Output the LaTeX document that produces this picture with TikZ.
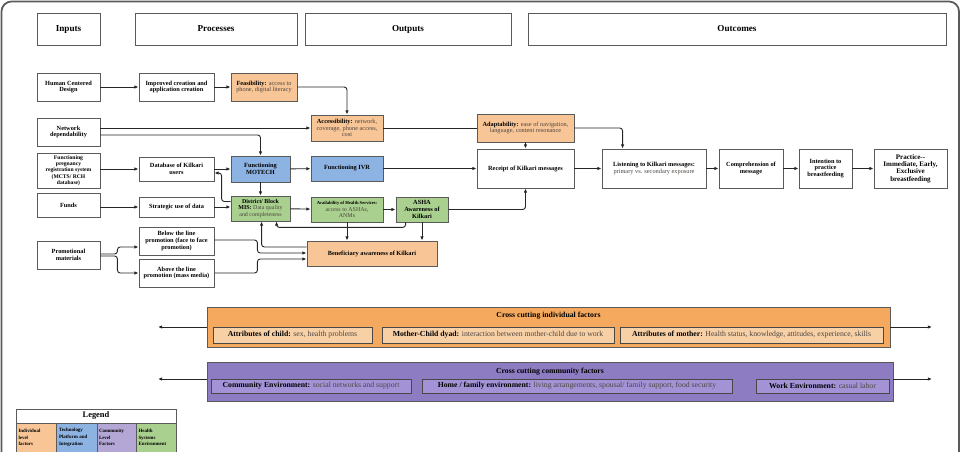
\documentclass[tikz,border=0pt]{standalone}
\usepackage{fontspec}
\setmainfont{Liberation Serif}
\usepackage{xcolor}
\usetikzlibrary{positioning,arrows.meta,calc}
\definecolor{edge}{HTML}{5A5A5A}
\definecolor{desc}{HTML}{4D4540}
\definecolor{indfill}{HTML}{F8C597}
\definecolor{techfill}{HTML}{8DB3E2}
\definecolor{hsfill}{HTML}{A9D08E}
\definecolor{indband}{HTML}{F4A95E}
\definecolor{indsub}{HTML}{F8D0A6}
\definecolor{comband}{HTML}{8E7CC3}
\definecolor{comsub}{HTML}{A393D6}
\definecolor{comleg}{HTML}{B4A7D6}
\newcommand{\dsc}[1]{{\mdseries\color{desc}#1}}

\begin{document}
\begin{tikzpicture}[x=0.05cm,y=-0.05cm,
    box/.style={draw=edge,line width=1.2pt,fill=white,align=center,inner sep=1pt,
                font=\fontsize{9}{9.5}\selectfont\bfseries},
    hdr/.style={box,font=\fontsize{13}{14}\selectfont\bfseries},
    wh/.style 2 args={minimum width=#1*0.05cm,minimum height=#2*0.05cm},
    ind/.style={box,fill=indfill},
    tech/.style={box,fill=techfill},
    hs/.style={box,fill=hsfill},
    band/.style={draw=edge,line width=1.2pt,inner sep=0pt},
    subbox/.style={draw=edge!80!black,line width=1pt,inner sep=0pt,
                   font=\fontsize{11}{12}\selectfont\bfseries},
    arr/.style={-{Latex[length=6pt,width=5pt]},line width=1.3pt,draw=black!85,rounded corners=4pt},
    link/.style={line width=1.3pt,draw=black!85},
    outerframe/.style={draw=edge,line width=2.5pt,rounded corners=0.5cm},
    leg/.style={draw=edge,line width=0.8pt,align=left,inner sep=2pt,text width=1.75cm,
                font=\fontsize{7}{9.5}\selectfont\bfseries}
  ]
  \useasboundingbox (0,0) rectangle (965,452);
  \clip (0,0) rectangle (965,452);
  \draw[outerframe] (1.5,1.5) rectangle (959,490);

  % Column headers
  \node[hdr,wh={63}{32}] (hinputs) at (68.5,29) {Inputs};
  \node[hdr,wh={162}{32}] (hprocess) at (216,29) {Processes};
  \node[hdr,wh={206}{32}] (houtputs) at (408,29) {Outputs};
  \node[hdr,wh={418}{32}] (houtcomes) at (737,29) {Outcomes};

  % Inputs
  \node[box,wh={63}{28}] (hcd) at (68.5,87) {Human Centered\\Design};
  \node[box,wh={63}{28}] (netdep) at (68.5,132) {Network\\dependability};
  \node[box,wh={63}{35},font=\fontsize{8}{8.8}\selectfont\bfseries] (fprs) at (68.5,170.5)
    {Functioning\\pregnancy\\registration system\\(MCTS/ RCH\\database)};
  \node[box,wh={63}{24}] (funds) at (68.5,205) {Funds};
  \node[box,wh={63}{28}] (promo) at (68.5,255) {Promotional\\materials};

  % Processes
  \node[box,wh={75}{28}] (improved) at (176.5,87) {Improved creation and\\application creation};
  \node[ind,wh={66}{28}] (feasib) at (264,87) {Feasibility: \dsc{access to}\\\dsc{phone, digital literacy}};
  \node[box,wh={75}{24}] (kdb) at (176.5,169) {Database of Kilkari\\users};
  \node[box,wh={75}{20}] (strategic) at (176.5,207) {Strategic use of data};
  \node[box,wh={75}{28}] (below) at (176.5,241) {Below the line\\promotion (face to face\\promotion)};
  \node[box,wh={75}{28}] (above) at (176.5,273) {Above the line\\promotion (mass media)};
  \node[tech,wh={59}{26}] (motech) at (260.5,169) {Functioning\\MOTECH};
  \node[hs,wh={59}{25},font=\fontsize{8.5}{9}\selectfont\bfseries] (mis) at (260.5,208.5)
    {District/ Block\\MIS: \dsc{Data quality}\\\dsc{and completeness}};

  % Outputs
  \node[ind,wh={72}{26}] (access) at (347,128)
    {Accessibility: \dsc{network,}\\\dsc{coverage, phone access,}\\\dsc{cost}};
  \node[tech,wh={72}{25}] (ivr) at (347,168.5) {Functioning IVR};
  \node[hs,wh={72}{25},font=\fontsize{8.5}{9}\selectfont\bfseries] (availhs) at (347,209.5)
    {{\fontsize{6.5}{8}\selectfont Availability of Health Services:}\\\dsc{access to ASHAs,}\\\dsc{ANMs}};
  \node[hs,wh={52}{25}] (asha) at (422,209.5) {ASHA\\Awareness of\\Kilkari};
  \node[ind,wh={130}{25}] (benef) at (372,253.5) {Beneficiary awareness of Kilkari};
  \node[ind,wh={97}{28}] (adapt) at (525.5,128)
    {Adaptability: \dsc{ease of navigation,}\\\dsc{language, content resonance}};
  \node[box,wh={97}{39}] (receipt) at (525.5,168.5) {Receipt of Kilkari messages};

  % Outcomes
  \node[box,wh={104}{39}] (listen) at (654,168.5)
    {Listening to Kilkari messages:\\\dsc{primary vs. secondary exposure}};
  \node[box,wh={64}{39}] (compre) at (751,168.5) {Comprehension of\\message};
  \node[box,wh={53}{39}] (intent) at (825.5,168.5) {Intention to\\practice\\breastfeeding};
  \node[box,wh={73}{39},font=\fontsize{10}{10.5}\selectfont\bfseries] (practice) at (910.5,168.5)
    {Practice-{}-\\Immediate, Early,\\Exclusive\\breastfeeding};

  % Connectors
  \draw[arr] (hcd) -- (improved);
  \draw[arr] (improved) -- (feasib);
  \draw[arr] (feasib) -| (access);
  \draw[arr] (netdep.east |- access.west) -- (access);
  \draw[arr] ($(netdep.east)+(0,3)$) -| (motech);
  \draw[link] (access) -- (adapt);
  \draw[arr] (adapt) -- (receipt);
  \coordinate (listenin) at ($(listen.north west)+(21,0)$);
  \draw[arr] (adapt) -| (listenin);
  \draw[arr] (fprs.east |- kdb.west) -- (kdb);
  \draw[arr] (kdb) -- (motech);
  \draw[arr] (motech) -- (ivr);
  \draw[arr] (ivr) -- (receipt);
  \draw[arr] (receipt) -- (listen);
  \draw[arr] (listen) -- (compre);
  \draw[arr] (compre) -- (intent);
  \draw[arr] (intent) -- (practice);
  \draw[arr] (motech) -- (mis);
  \draw[arr] ($(mis.west)+(0,-7)$) -- ++(-9,0) |- ($(kdb.east)+(0,4)$);
  \draw[arr] (funds.east |- strategic.west) -- (strategic);
  \draw[arr] (strategic) -- (strategic -| mis.west);
  \draw[arr] (mis) -- (availhs);
  \draw[arr] (availhs) -- (asha);
  \draw[arr] (asha) -| (receipt);
  \draw[arr] ($(asha.south west)+(10,0)$) -- ++(0,5) -| ($(mis.south west)+(46,0)$);
  \draw[arr] (availhs) -- (availhs |- benef.north);
  \draw[arr] (asha) -- (asha |- benef.north);
  \draw[arr] ($(benef.west)+(0,-6.5)$) -| ($(mis.south west)+(31,0)$);
  \draw[arr] ($(promo.east)+(0,-1)$) -- ++(17,0) |- ($(below.west)+(0,6)$);
  \draw[arr] ($(promo.east)+(0,1)$) -- ++(17,0) |- (above.west);
  \draw[arr] ($(below.east)+(0,-1)$) -- ++(43,0) |- ($(benef.west)+(0,-0.5)$);
  \draw[arr] (above.east) -- ++(43,0) |- ($(benef.west)+(0,5.5)$);

  % Cross cutting individual factors
  \node[band,fill=indband,wh={683}{40}] (indiv) at (548.5,327) {};
  \node[font=\fontsize{11}{12}\selectfont\bfseries] (indivtitle) at (548.5,316) {Cross cutting individual factors};
  \node[subbox,fill=indsub,wh={159}{16}] (childattr) at (292.5,335) {Attributes of child: \dsc{sex, health problems}};
  \node[subbox,fill=indsub,wh={232}{16}] (dyad) at (498,335)
    {Mother-Child dyad: \dsc{interaction between mother-child due to work}};
  \node[subbox,fill=indsub,wh={263}{16}] (motherattr) at (751.5,335)
    {Attributes of mother: \dsc{Health status, knowledge, attitudes, experience, skills}};
  \coordinate (indleft) at (158,327);
  \coordinate (indright) at (932,327);
  \draw[arr] (indiv) -- (indleft);
  \draw[arr] (indiv) -- (indright);

  % Cross cutting community factors
  \node[band,fill=comband,wh={686}{39}] (comm) at (550,381.5) {};
  \node[font=\fontsize{11}{12}\selectfont\bfseries] (commtitle) at (550,372) {Cross cutting community factors};
  \node[subbox,fill=comsub,wh={200}{14}] (commenv) at (311,386)
    {Community Environment: \dsc{social networks and support}};
  \node[subbox,fill=comsub,wh={310}{14}] (homeenv) at (577,386)
    {Home / family environment: \dsc{living arrangements, spousal/ family support, food security}};
  \node[subbox,fill=comsub,wh={133}{14}] (workenv) at (822.5,386) {Work Environment: \dsc{casual labor}};
  \coordinate (comleft) at (158,379);
  \coordinate (comright) at (932,379);
  \draw[arr] ($(comm.west)+(0,-2.5)$) -- (comleft);
  \draw[arr] ($(comm.east)+(0,-2.5)$) -- (comright);

  % Legend
  \node[draw=edge,line width=1pt,wh={160}{14},font=\fontsize{12}{12}\selectfont\bfseries] (legtitle) at (96,416) {Legend};
  \node[leg,fill=indfill,wh={40}{29}] (legind) at (36,437.5) {Individual\\level\\factors};
  \node[leg,fill=techfill,wh={41}{29}] (legtech) at (76.5,437.5) {Technology\\Platform and\\Integration};
  \node[leg,fill=comleg,wh={39}{29}] (legcom) at (116.5,437.5) {Community\\Level\\Factors};
  \node[leg,fill=hsfill,wh={40}{29}] (leghs) at (156,437.5) {Health\\Systems\\Environment};
\end{tikzpicture}
\end{document}
